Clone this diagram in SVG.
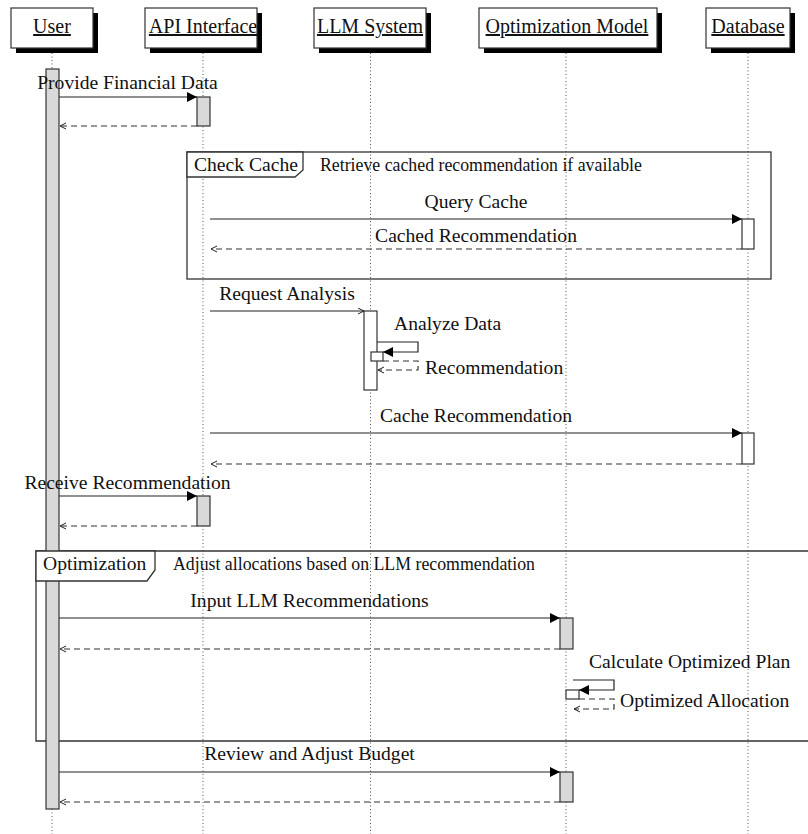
<svg xmlns="http://www.w3.org/2000/svg" width="808" height="834" viewBox="0 0 808 834">
<style>
  .hdr{fill:#fff;stroke:#333;stroke-width:1.2}
  .shd{fill:#000}
  .ht{font-family:"Liberation Serif",serif;font-size:20px;fill:#111;text-anchor:middle;text-decoration:underline}
  .life{stroke:#555;stroke-width:1;stroke-dasharray:1 2.5;fill:none}
  .act{fill:#d9d9d9;stroke:#333;stroke-width:1.2}
  .actw{fill:#fff;stroke:#333;stroke-width:1.2}
  .msg{stroke:#222;stroke-width:1.2;fill:none}
  .ret{stroke:#333;stroke-width:1.2;fill:none;stroke-dasharray:6 4}
  .lbl{font-family:"Liberation Serif",serif;font-size:19.6px;fill:#111}
  .note{font-family:"Liberation Serif",serif;font-size:17.8px;fill:#111}
  .frame{fill:none;stroke:#333;stroke-width:1.3}
  .ftab{fill:#fff;stroke:#333;stroke-width:1.3}
  .mid{text-anchor:middle}
</style>
<defs>
  <marker id="solid" markerUnits="userSpaceOnUse" markerWidth="11" markerHeight="11" refX="10" refY="5" orient="auto">
    <path d="M0,0 L10,5 L0,10 z" fill="#000"/>
  </marker>
  <marker id="open" markerUnits="userSpaceOnUse" markerWidth="8" markerHeight="8" refX="6" refY="3.5" orient="auto">
    <path d="M0,0.5 L6,3.5 L0,6.5" fill="none" stroke="#222" stroke-width="1"/>
  </marker>
</defs>
<rect width="808" height="834" fill="#fff"/>

<g id="lifelines">
  <line class="life" x1="52" y1="53" x2="52" y2="834"/>
  <line class="life" x1="203" y1="53" x2="203" y2="834"/>
  <line class="life" x1="370.5" y1="53" x2="370.5" y2="834"/>
  <line class="life" x1="566" y1="53" x2="566" y2="834"/>
  <line class="life" x1="748" y1="53" x2="748" y2="834"/>
</g>

<g id="user">
  <rect class="shd" x="16" y="13" width="82" height="40"/>
  <rect class="hdr" x="11" y="8" width="82" height="40"/>
  <text class="ht" x="52" y="33">User</text>
</g>
<g id="api">
  <rect class="shd" x="150" y="13" width="112" height="40"/>
  <rect class="hdr" x="145" y="8" width="112" height="40"/>
  <text class="ht" x="203" y="33">API Interface</text>
</g>
<g id="llm">
  <rect class="shd" x="319" y="13" width="112" height="40"/>
  <rect class="hdr" x="314" y="8" width="112" height="40"/>
  <text class="ht" x="370" y="33">LLM System</text>
</g>
<g id="opt">
  <rect class="shd" x="484" y="13" width="178" height="40"/>
  <rect class="hdr" x="479" y="8" width="178" height="40"/>
  <text class="ht" x="567" y="33">Optimization Model</text>
</g>
<g id="db">
  <rect class="shd" x="711" y="13" width="84" height="40"/>
  <rect class="hdr" x="706" y="8" width="84" height="40"/>
  <text class="ht" x="748" y="33">Database</text>
</g>

<g id="frame-check-cache">
  <rect class="frame" x="187" y="152" width="584" height="127"/>
</g>
<g id="frame-optimization">
  <path class="frame" d="M810,551 H36 V741 H810"/>
</g>

<g id="activations">
  <rect class="act" x="46" y="69" width="13" height="740"/>
  <rect class="act" x="197" y="97" width="13" height="29"/>
  <rect class="actw" x="742" y="219" width="12" height="30"/>
  <rect class="actw" x="364" y="311" width="13" height="79"/>
  <rect class="actw" x="371" y="352" width="12" height="9"/>
  <rect class="actw" x="742" y="433" width="12" height="31"/>
  <rect class="act" x="197" y="496" width="13" height="30"/>
  <rect class="act" x="560" y="618" width="13" height="31"/>
  <rect class="actw" x="566" y="690" width="13" height="9"/>
  <rect class="act" x="560" y="772" width="13" height="30"/>
</g>

<g id="connectors">
  <line class="msg" x1="59" y1="97" x2="197" y2="97" marker-end="url(#solid)"/>
  <line class="ret" x1="197" y1="126" x2="60" y2="126" marker-end="url(#open)"/>
  <line class="msg" x1="210" y1="219" x2="742" y2="219" marker-end="url(#solid)"/>
  <line class="ret" x1="742" y1="249" x2="211" y2="249" marker-end="url(#open)"/>
  <line class="msg" x1="210" y1="311" x2="364" y2="311" marker-end="url(#open)"/>
  <path class="msg" d="M377,342 H418 V352 H383" marker-end="url(#solid)"/>
  <path class="ret" stroke-dasharray="6 4" d="M383,361 H418 V370 H378" marker-end="url(#open)"/>
  <line class="msg" x1="210" y1="433" x2="742" y2="433" marker-end="url(#solid)"/>
  <line class="ret" x1="742" y1="464" x2="211" y2="464" marker-end="url(#open)"/>
  <line class="msg" x1="59" y1="496" x2="197" y2="496" marker-end="url(#solid)"/>
  <line class="ret" x1="197" y1="526" x2="60" y2="526" marker-end="url(#open)"/>
  <line class="msg" x1="59" y1="618" x2="560" y2="618" marker-end="url(#solid)"/>
  <line class="ret" x1="560" y1="649" x2="60" y2="649" marker-end="url(#open)"/>
  <path class="msg" d="M573,680 H614 V690 H579" marker-end="url(#solid)"/>
  <path class="ret" d="M579,699 H614 V709 H574" marker-end="url(#open)"/>
  <line class="msg" x1="59" y1="772" x2="560" y2="772" marker-end="url(#solid)"/>
  <line class="ret" x1="560" y1="802" x2="60" y2="802" marker-end="url(#open)"/>
</g>

<g id="frame-labels">
  <path class="ftab" d="M187,152 H303 V170 L295,177 H187 Z"/>
  <text class="lbl" x="194" y="171">Check Cache</text>
  <text class="note" x="320" y="171">Retrieve cached recommendation if available</text>
  <path class="ftab" d="M36,551 H155 V570 L147,581 H36 Z"/>
  <text class="lbl" x="43" y="570">Optimization</text>
  <text class="note" x="173" y="570">Adjust allocations based on LLM recommendation</text>
</g>

<g id="labels">
  <text class="lbl mid" x="127.5" y="89">Provide Financial Data</text>
  <text class="lbl mid" x="476" y="208">Query Cache</text>
  <text class="lbl mid" x="476" y="242">Cached Recommendation</text>
  <text class="lbl mid" x="287" y="300">Request Analysis</text>
  <text class="lbl" x="394" y="330">Analyze Data</text>
  <text class="lbl" x="425" y="374">Recommendation</text>
  <text class="lbl mid" x="476" y="422">Cache Recommendation</text>
  <text class="lbl mid" x="127.5" y="489">Receive Recommendation</text>
  <text class="lbl mid" x="309.5" y="607">Input LLM Recommendations</text>
  <text class="lbl" x="589" y="668">Calculate Optimized Plan</text>
  <text class="lbl" x="620" y="707">Optimized Allocation</text>
  <text class="lbl mid" x="309.5" y="760">Review and Adjust Budget</text>
</g>
</svg>
